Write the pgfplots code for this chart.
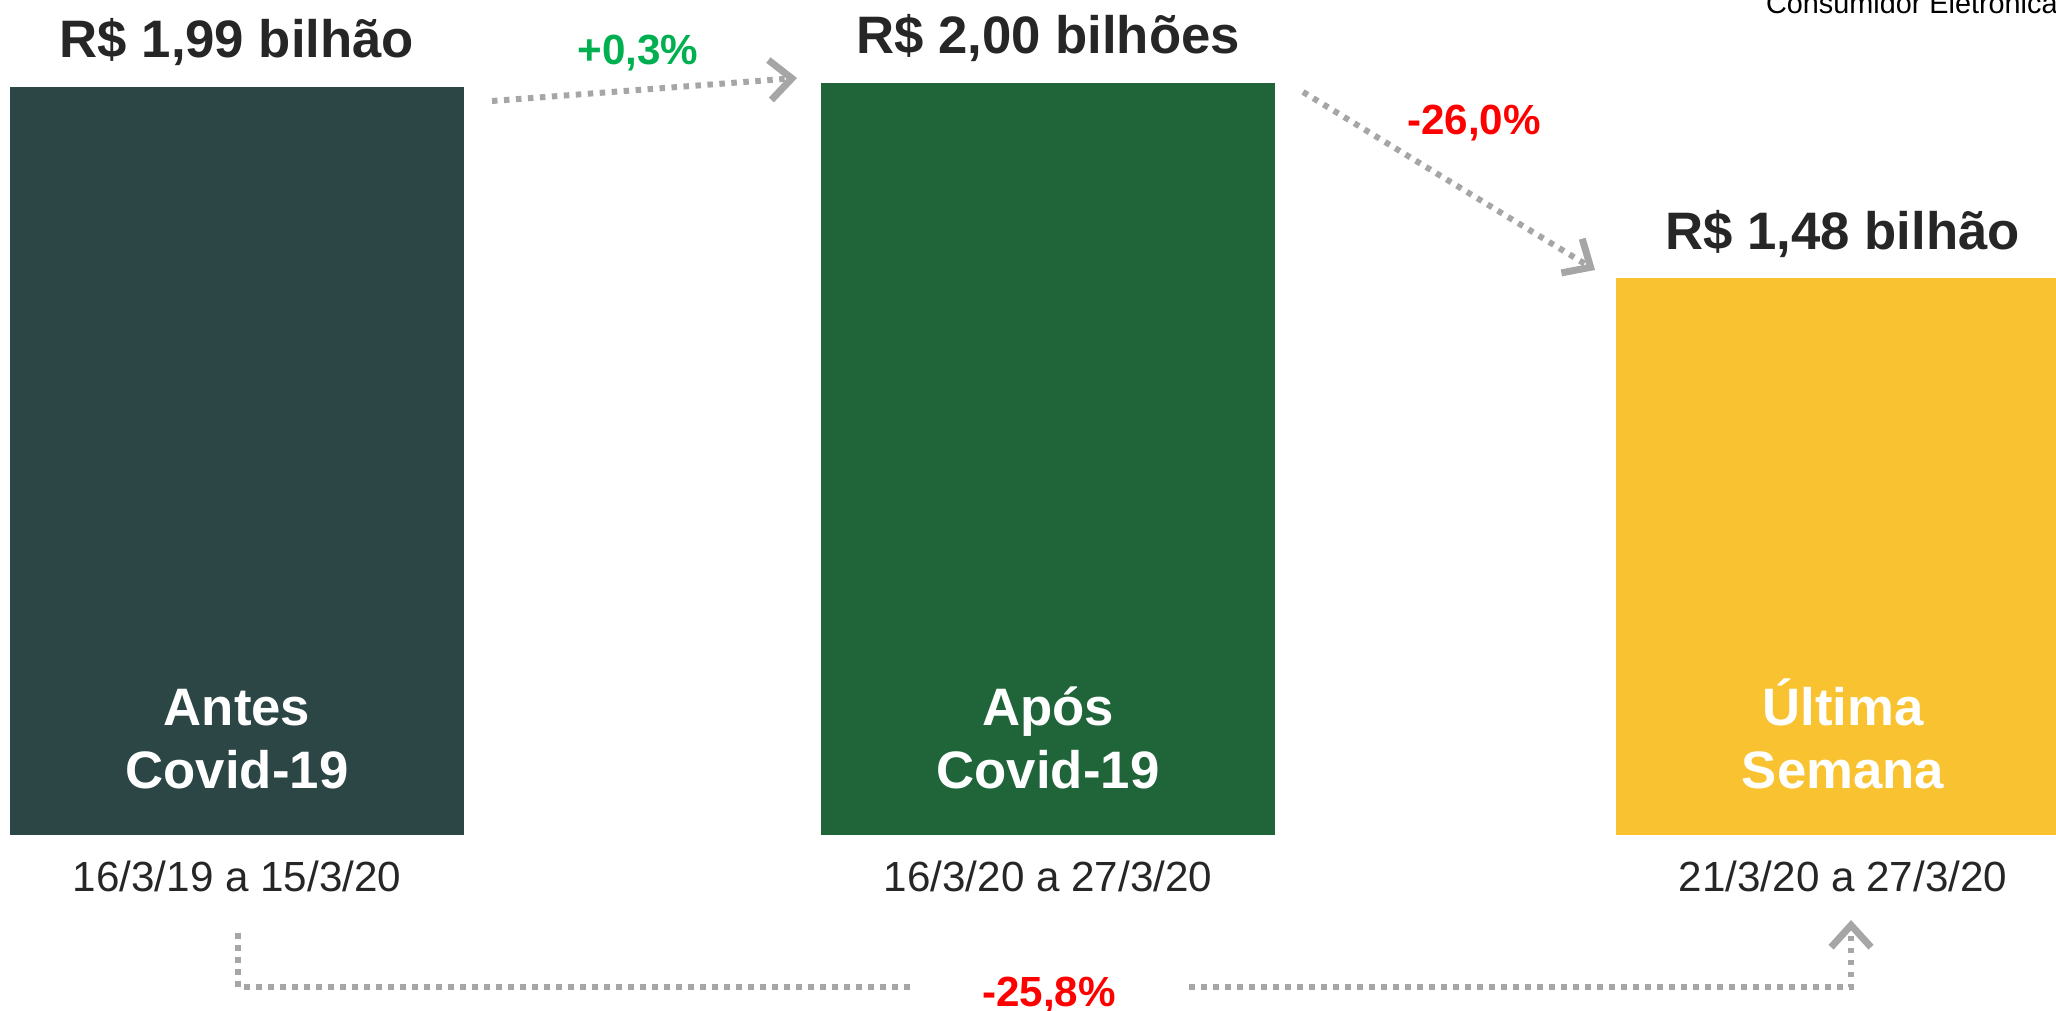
\documentclass[border=0pt]{standalone}
\usepackage{fontspec}
\setmainfont{Liberation Sans}
\usepackage{pgfplots}
\pgfplotsset{compat=1.18}
\usetikzlibrary{arrows.meta}

\definecolor{barA}{HTML}{2C4545}
\definecolor{barB}{HTML}{1F6539}
\definecolor{barC}{HTML}{F8C230}
\definecolor{seta}{HTML}{A6A6A6}
\definecolor{verde}{HTML}{00B050}
\definecolor{vermelho}{HTML}{FF0000}
\definecolor{titulo}{HTML}{262626}

\tikzset{
  seta/.style={draw=seta, line width=0.6mm, dash pattern=on 0.55mm off 0.65mm},
  ponta/.style={-{Straight Barb[length=2.2mm,width=4mm,line width=0.7mm]}},
  tit/.style={anchor=base, text=titulo, font=\bfseries\fontsize{15}{18}\selectfont},
  dentro/.style={anchor=base, text=white, font=\bfseries\fontsize{15}{18}\selectfont},
  data/.style={anchor=base, text=titulo, font=\fontsize{12}{14}\selectfont},
  pct/.style={anchor=base, font=\bfseries\fontsize{12}{14}\selectfont},
}

\begin{document}
\begin{tikzpicture}
\begin{axis}[
    name=ax,
    at={(0,0)}, anchor=south west,
    scale only axis,
    width=205.6mm, height=101mm,
    xmin=-0.2922, xmax=2.2429,
    ymin=-0.4654, ymax=2.2207,
    hide axis,
    clip=true,
]
% bilhões de R$
\addplot[ybar, bar width=0.56, fill=barA, draw=none] coordinates {(0,1.99)};
\addplot[ybar, bar width=0.56, fill=barB, draw=none] coordinates {(1,2.00)};
\addplot[ybar, bar width=0.56, fill=barC, draw=none] coordinates {(1.98,1.48)};

\node[tit, yshift=2.9mm] at (axis cs:0,1.99) {R\$ 1,99 bilhão};
\node[tit, yshift=2.9mm] at (axis cs:1,2.00) {R\$ 2,00 bilhões};
\node[tit, yshift=2.9mm] at (axis cs:1.98,1.48) {R\$ 1,48 bilhão};
\end{axis}

% anotações, em pixels a partir do canto superior esquerdo
\begin{scope}[yshift=101mm, x=0.1mm, y=-0.1mm]
  \node[dentro] at (237,725) {Antes};
  \node[dentro] at (237,788) {Covid-19};
  \node[dentro] at (1048,725) {Após};
  \node[dentro] at (1048,788) {Covid-19};
  \node[dentro] at (1843,725) {Última};
  \node[dentro] at (1843,788) {Semana};

  \node[data] at (237,891) {16/3/19 a 15/3/20};
  \node[data] at (1048,891) {16/3/20 a 27/3/20};
  \node[data] at (1843,891) {21/3/20 a 27/3/20};

  \node[anchor=base east, font=\fontsize{8.2}{10}\selectfont] at (2070,14) {Consumidor Eletrônica};

  \draw[seta, ponta] (492,101) -- (797,78);
  \draw[seta, ponta] (1303,92) -- (1595,270);
  \draw[seta] (238,933) -- (238,987) -- (910,987);
  \draw[seta, ponta] (1189,987) -- (1851,987) -- (1851,920);

  \node[pct, text=verde] at (638,65) {+0,3\%};
  \node[pct, text=vermelho] at (1474,135) {-26,0\%};
  \node[pct, text=vermelho] at (1049,1006) {-25,8\%};
\end{scope}

\pgfresetboundingbox
\path (ax.south west) rectangle (ax.north east);
\end{tikzpicture}
\end{document}
